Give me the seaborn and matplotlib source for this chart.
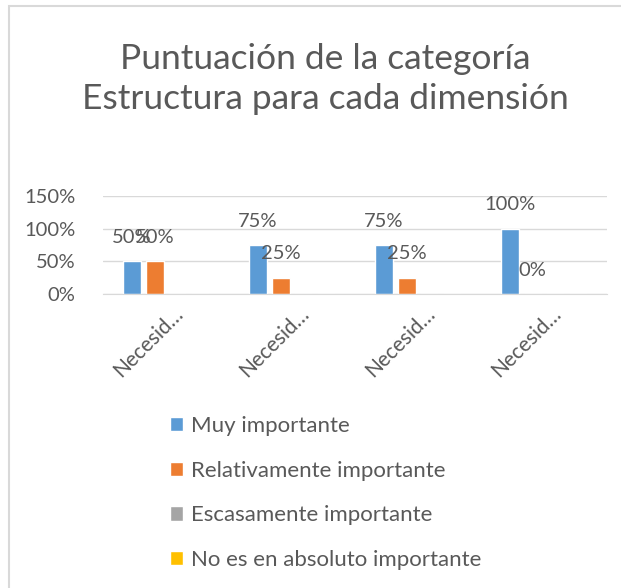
import matplotlib
matplotlib.use("Agg")
import matplotlib.pyplot as plt
import matplotlib.ticker as mticker
import matplotlib.transforms as mtrans
from matplotlib.patches import Rectangle
import pandas as pd
import seaborn as sns

# data
categories = ["Necesidad 1", "Necesidad 2", "Necesidad 3", "Necesidad 4"]
tick_labels = ["Necesid…", "Necesid…", "Necesid…", "Necesid…"]
series = ["Muy importante", "Relativamente importante",
          "Escasamente importante", "No es en absoluto importante"]
muy = [0.50, 0.75, 0.75, 1.00]
relativ = [0.50, 0.25, 0.25, 0.00]
escasa = [0.0, 0.0, 0.0, 0.0]
nada = [0.0, 0.0, 0.0, 0.0]
colors = ["#5B9BD5", "#ED7D31", "#A5A5A5", "#FFC000"]

rows = []
for name, vals in zip(series, [muy, relativ, escasa, nada]):
    for c, v in zip(categories, vals):
        rows.append({"cat": c, "serie": name, "valor": v})
df = pd.DataFrame(rows)

sns.set_style("white")
plt.rcParams["font.family"] = ["Lato", "DejaVu Sans"]
txt = "#595959"

fig = plt.figure(figsize=(6.21, 5.88), dpi=100)
ax = fig.add_axes([103/621, 1 - 294/588, 504/621, 98/588])

sns.barplot(data=df, x="cat", y="valor", hue="serie", order=categories,
            hue_order=series, palette=colors, width=0.72, gap=0.2,
            saturation=1, ax=ax, legend=True)

# labels only for the first two series
for cont in ax.containers[:2]:
    ax.bar_label(cont, fmt=lambda v: f"{v*100:.0f}%", padding=11,
                 fontsize=14.5, color=txt)

ax.set_ylim(0, 1.5)
ax.set_yticks([0, 0.5, 1.0, 1.5])
ax.yaxis.set_major_formatter(mticker.FuncFormatter(lambda v, p: f"{v*100:.0f}%"))
ax.grid(axis="y", color="#D9D9D9", linewidth=1)
ax.set_axisbelow(True)
for s in ["top", "right", "left"]:
    ax.spines[s].set_visible(False)
ax.spines["bottom"].set_color("#D9D9D9")
ax.set_xlabel("")
ax.set_ylabel("")
ax.set_xticks(range(len(categories)))
ax.set_xticklabels(tick_labels, rotation=45, ha="right", va="center",
                   rotation_mode="anchor")
ax.tick_params(axis="both", length=0, labelsize=14.5, colors=txt)
ax.tick_params(axis="x", labelsize=15)
ax.tick_params(axis="y", pad=20)
ax.tick_params(axis="x", pad=12)
shift = mtrans.ScaledTranslation(14/100, 0, fig.dpi_scale_trans)
for lab in ax.get_xticklabels():
    lab.set_transform(lab.get_transform() + shift)

handles, labels = ax.get_legend_handles_labels()
ax.get_legend().remove()
fig.legend(handles, labels, loc="upper left", bbox_to_anchor=(150/621, 1 - 396/588),
           frameon=False, fontsize=16, labelcolor=txt, handlelength=0.6,
           handleheight=0.6, handletextpad=0.36, labelspacing=1.11)

fig.suptitle("Puntuación de la categoría\nEstructura para cada dimensión",
             x=325/621, y=1 - 79/588, fontsize=25.5, color=txt, va="center",
             linespacing=1.3)

# chart frame (only left and top visible in the crop)
fig.patches.append(Rectangle((9/621, -0.1), 1.2, 1.1 - 6/588, transform=fig.transFigure,
                             fill=False, edgecolor="#D9D9D9", linewidth=1.5))

fig.savefig("out.png", dpi=100)
